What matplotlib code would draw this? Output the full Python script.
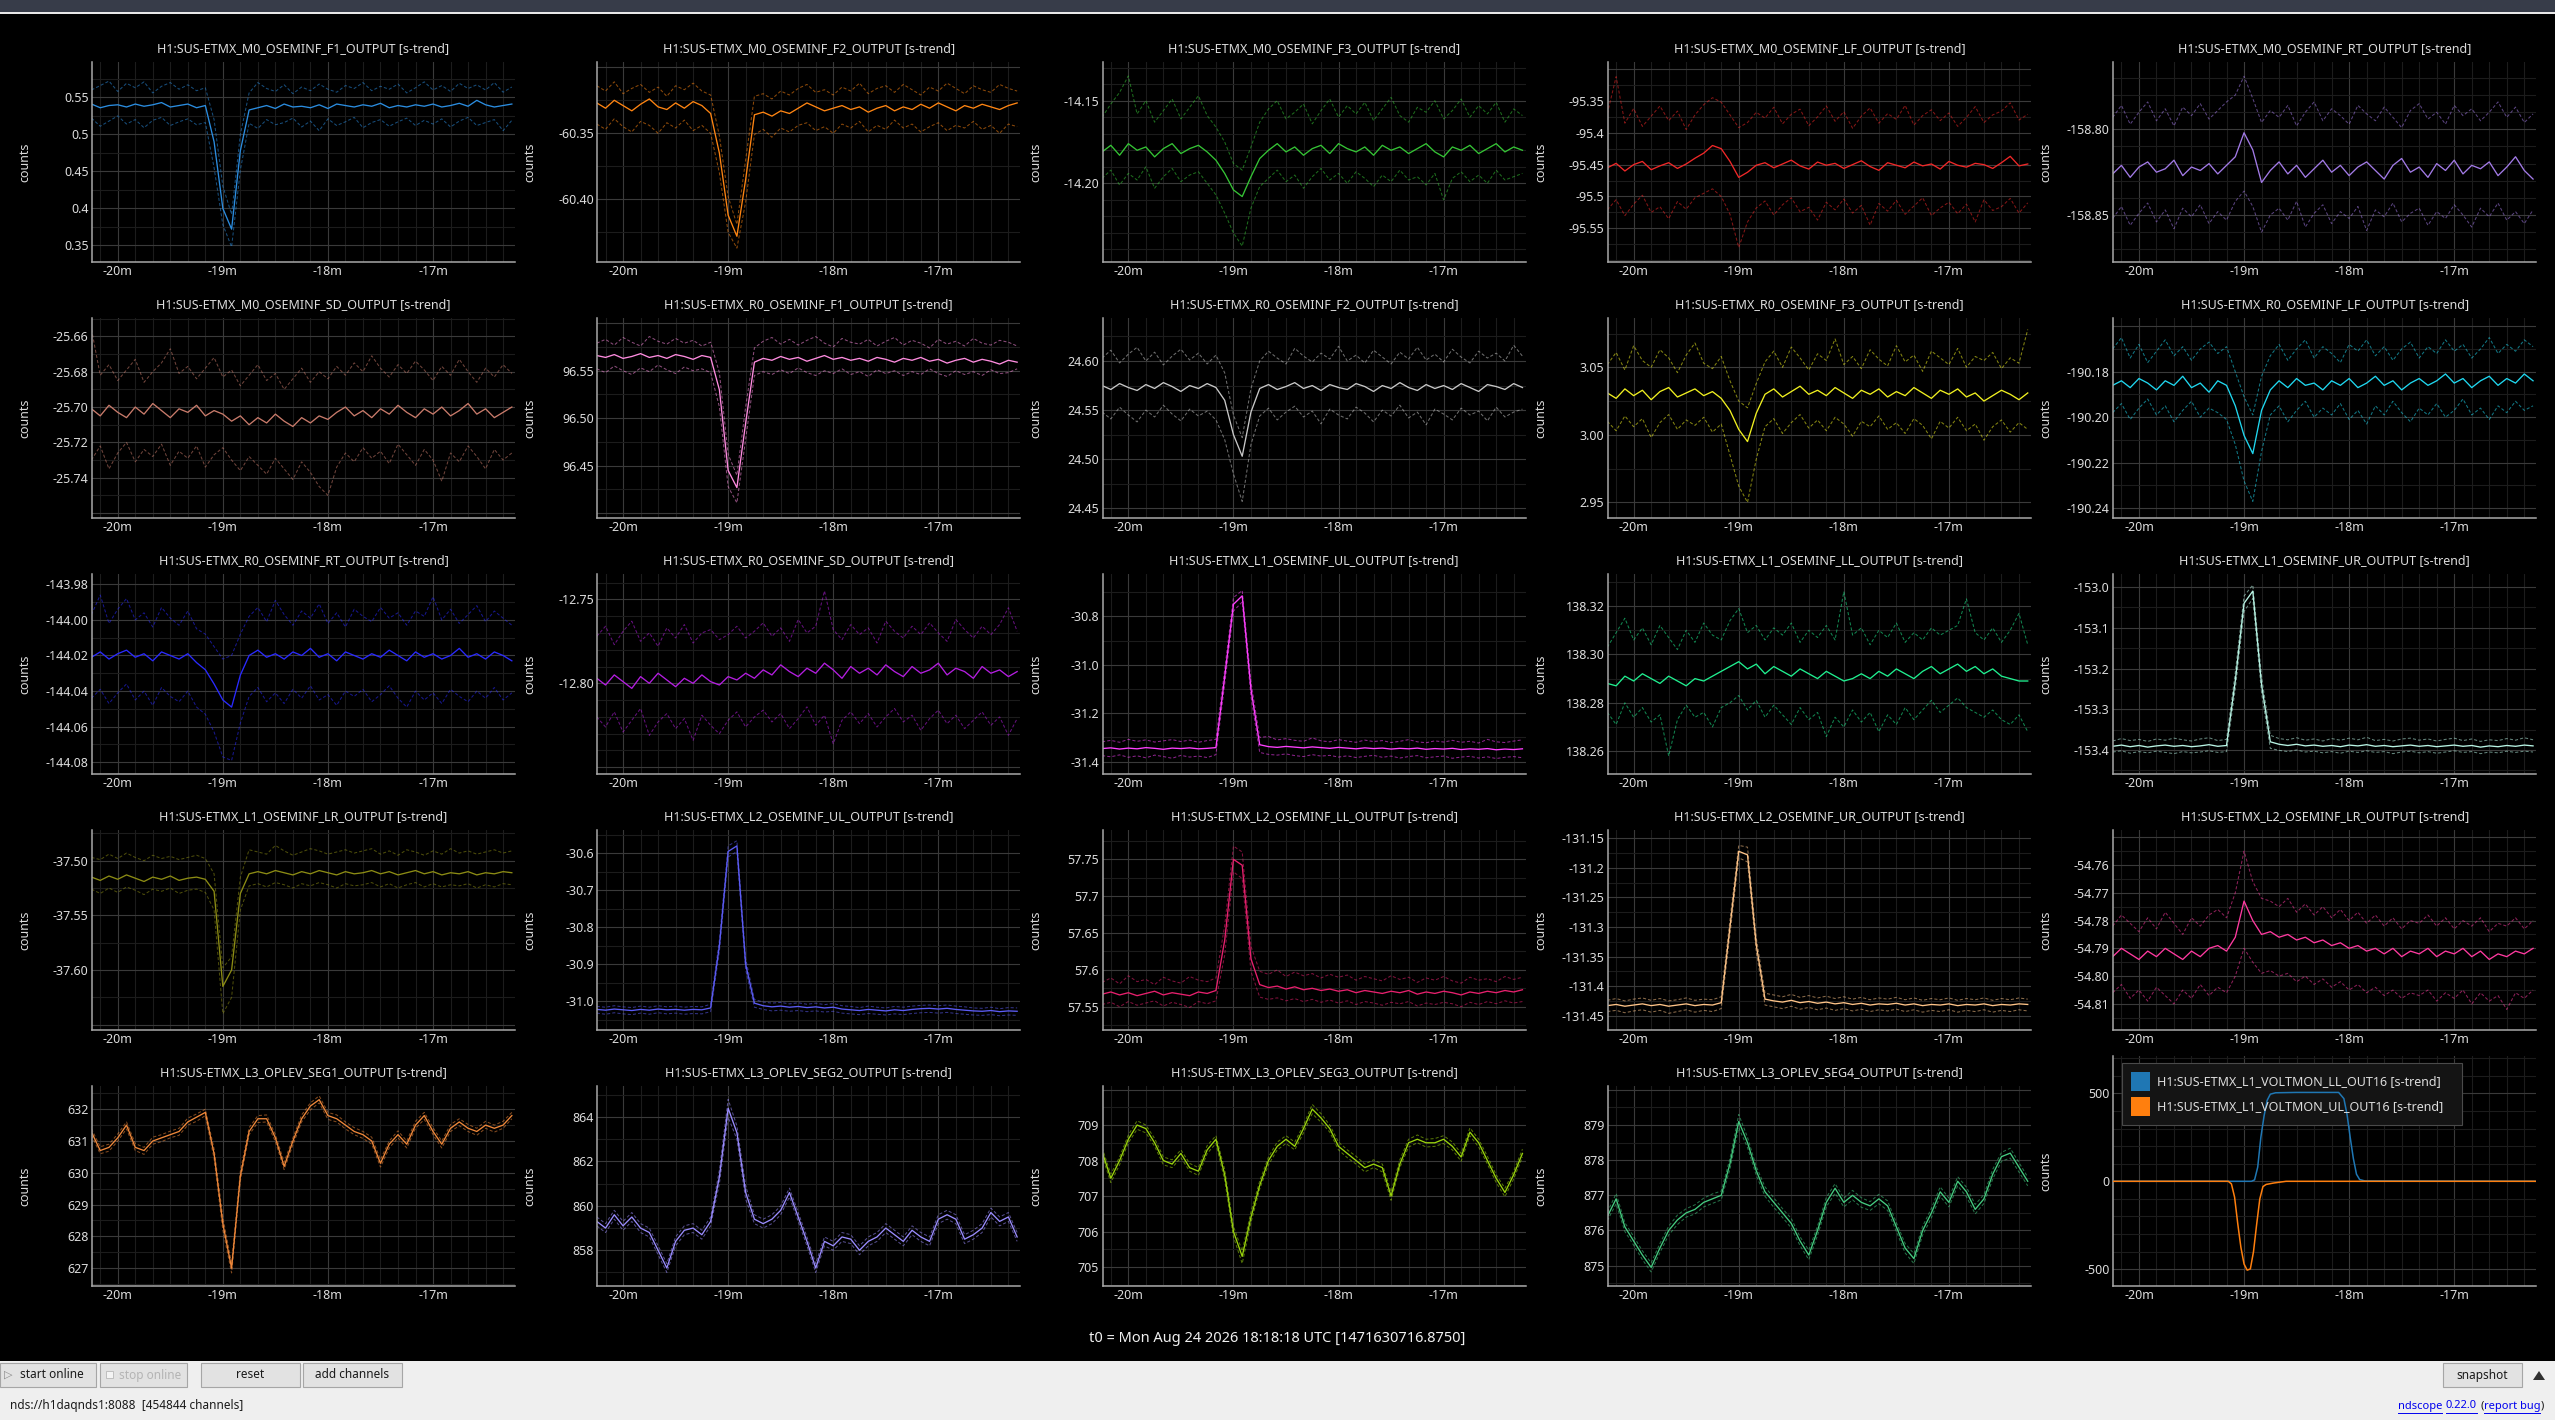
import numpy as np
import matplotlib
matplotlib.use("Agg")
import matplotlib.pyplot as plt
from matplotlib.patches import Rectangle, Polygon
from matplotlib.lines import Line2D
from matplotlib.ticker import MultipleLocator

plt.rcParams['font.family'] = ['Noto Sans', 'DejaVu Sans']

W, H = 2555, 1420

# ---------------- data (time in minutes relative to t0, 5 s sampling) ----------------
t_min = np.linspace(-20.25, -16.25, 49)
x_ticks = [-20, -19, -18, -17]
x_tick_labels = ['-20m', '-19m', '-18m', '-17m']

F1_mean = [0.541,0.536,0.539,0.540,0.537,0.541,0.538,0.540,0.543,0.537,0.539,0.541,0.536,0.539,0.490,0.400,0.372,0.478,0.533,0.536,0.539,0.535,0.541,0.537,0.538,0.536,0.540,0.535,0.541,0.539,0.537,0.540,0.538,0.542,0.536,0.539,0.537,0.540,0.538,0.541,0.537,0.539,0.542,0.538,0.546,0.540,0.537,0.539,0.541]
F1_max = [0.560,0.566,0.572,0.558,0.569,0.563,0.571,0.556,0.565,0.570,0.561,0.567,0.559,0.563,0.520,0.430,0.392,0.500,0.556,0.570,0.562,0.558,0.567,0.555,0.564,0.559,0.568,0.561,0.557,0.566,0.562,0.570,0.559,0.565,0.561,0.568,0.556,0.563,0.571,0.560,0.566,0.558,0.569,0.562,0.567,0.560,0.570,0.557,0.564]
F1_min = [0.522,0.511,0.518,0.525,0.514,0.520,0.509,0.519,0.523,0.512,0.517,0.521,0.513,0.516,0.455,0.378,0.348,0.452,0.515,0.508,0.520,0.513,0.516,0.522,0.510,0.518,0.505,0.521,0.512,0.517,0.523,0.509,0.516,0.520,0.511,0.517,0.522,0.512,0.519,0.514,0.521,0.510,0.518,0.523,0.512,0.516,0.520,0.505,0.519]

F2_mean = [-60.327,-60.331,-60.325,-60.329,-60.333,-60.328,-60.324,-60.330,-60.332,-60.327,-60.331,-60.326,-60.329,-60.335,-60.365,-60.412,-60.428,-60.385,-60.336,-60.334,-60.337,-60.333,-60.335,-60.331,-60.327,-60.330,-60.333,-60.331,-60.329,-60.332,-60.330,-60.334,-60.331,-60.329,-60.333,-60.330,-60.332,-60.328,-60.331,-60.327,-60.330,-60.333,-60.329,-60.331,-60.328,-60.330,-60.332,-60.329,-60.327]
F2_max = [-60.314,-60.318,-60.311,-60.320,-60.316,-60.313,-60.319,-60.315,-60.322,-60.314,-60.317,-60.312,-60.318,-60.321,-60.352,-60.398,-60.419,-60.370,-60.322,-60.320,-60.324,-60.318,-60.321,-60.316,-60.313,-60.319,-60.317,-60.321,-60.315,-60.318,-60.312,-60.320,-60.316,-60.314,-60.319,-60.313,-60.317,-60.321,-60.315,-60.318,-60.312,-60.316,-60.320,-60.314,-60.317,-60.319,-60.313,-60.316,-60.318]
F2_min = [-60.343,-60.347,-60.339,-60.345,-60.349,-60.341,-60.344,-60.350,-60.342,-60.346,-60.340,-60.348,-60.344,-60.350,-60.380,-60.425,-60.437,-60.402,-60.351,-60.347,-60.353,-60.346,-60.349,-60.344,-60.342,-60.348,-60.345,-60.350,-60.343,-60.346,-60.341,-60.349,-60.344,-60.347,-60.340,-60.346,-60.343,-60.349,-60.345,-60.342,-60.348,-60.344,-60.346,-60.341,-60.347,-60.344,-60.350,-60.343,-60.345]

F3_mean = [-14.181,-14.177,-14.183,-14.176,-14.180,-14.178,-14.184,-14.179,-14.176,-14.182,-14.179,-14.177,-14.181,-14.186,-14.194,-14.204,-14.208,-14.196,-14.185,-14.180,-14.176,-14.181,-14.178,-14.183,-14.179,-14.177,-14.182,-14.176,-14.179,-14.181,-14.178,-14.183,-14.177,-14.180,-14.178,-14.182,-14.179,-14.176,-14.181,-14.184,-14.178,-14.180,-14.177,-14.182,-14.179,-14.176,-14.181,-14.178,-14.180]
F3_max = [-14.160,-14.152,-14.145,-14.135,-14.158,-14.150,-14.163,-14.156,-14.149,-14.161,-14.154,-14.147,-14.159,-14.166,-14.175,-14.188,-14.192,-14.178,-14.163,-14.155,-14.150,-14.161,-14.157,-14.152,-14.164,-14.156,-14.149,-14.160,-14.153,-14.158,-14.151,-14.162,-14.155,-14.148,-14.159,-14.163,-14.154,-14.157,-14.150,-14.161,-14.156,-14.149,-14.160,-14.153,-14.158,-14.151,-14.163,-14.155,-14.159]
F3_min = [-14.197,-14.192,-14.201,-14.194,-14.198,-14.190,-14.203,-14.196,-14.191,-14.199,-14.195,-14.193,-14.200,-14.207,-14.218,-14.230,-14.238,-14.215,-14.202,-14.197,-14.192,-14.199,-14.195,-14.203,-14.196,-14.191,-14.198,-14.194,-14.200,-14.193,-14.197,-14.202,-14.195,-14.199,-14.192,-14.198,-14.196,-14.201,-14.194,-14.210,-14.197,-14.193,-14.199,-14.195,-14.200,-14.192,-14.198,-14.196,-14.194]

LF_mean = [-95.455,-95.448,-95.460,-95.450,-95.445,-95.458,-95.452,-95.447,-95.456,-95.449,-95.440,-95.432,-95.420,-95.425,-95.445,-95.470,-95.462,-95.451,-95.447,-95.455,-95.449,-95.443,-95.452,-95.457,-95.446,-95.451,-95.448,-95.456,-95.450,-95.444,-95.453,-95.459,-95.447,-95.451,-95.455,-95.446,-95.452,-95.449,-95.457,-95.445,-95.451,-95.454,-95.448,-95.450,-95.456,-95.447,-95.437,-95.452,-95.449]
LF_max = [-95.370,-95.312,-95.385,-95.362,-95.390,-95.374,-95.358,-95.381,-95.366,-95.395,-95.372,-95.356,-95.345,-95.352,-95.372,-95.392,-95.384,-95.368,-95.377,-95.360,-95.386,-95.371,-95.363,-95.389,-95.375,-95.358,-95.382,-95.367,-95.393,-95.374,-95.361,-95.385,-95.370,-95.379,-95.357,-95.388,-95.373,-95.364,-95.381,-95.369,-95.390,-95.376,-95.359,-95.384,-95.372,-95.366,-95.353,-95.380,-95.371]
LF_min = [-95.521,-95.505,-95.530,-95.512,-95.498,-95.525,-95.516,-95.535,-95.508,-95.520,-95.502,-95.495,-95.488,-95.500,-95.528,-95.580,-95.540,-95.518,-95.507,-95.529,-95.513,-95.502,-95.524,-95.517,-95.537,-95.509,-95.521,-95.504,-95.526,-95.514,-95.545,-95.511,-95.523,-95.506,-95.528,-95.515,-95.502,-95.530,-95.518,-95.509,-95.527,-95.512,-95.540,-95.505,-95.522,-95.516,-95.503,-95.526,-95.510]

RT_mean = [-158.826,-158.821,-158.828,-158.822,-158.819,-158.825,-158.823,-158.818,-158.827,-158.822,-158.824,-158.820,-158.826,-158.821,-158.816,-158.802,-158.812,-158.831,-158.824,-158.819,-158.826,-158.821,-158.828,-158.823,-158.818,-158.825,-158.821,-158.827,-158.822,-158.819,-158.824,-158.829,-158.821,-158.817,-158.825,-158.822,-158.828,-158.820,-158.824,-158.818,-158.826,-158.821,-158.823,-158.819,-158.827,-158.822,-158.816,-158.824,-158.829]
RT_max = [-158.793,-158.786,-158.797,-158.790,-158.784,-158.795,-158.788,-158.798,-158.787,-158.792,-158.785,-158.794,-158.789,-158.784,-158.780,-158.769,-158.782,-158.796,-158.789,-158.793,-158.786,-158.798,-158.790,-158.784,-158.795,-158.788,-158.792,-158.797,-158.786,-158.791,-158.795,-158.787,-158.793,-158.799,-158.789,-158.785,-158.794,-158.790,-158.797,-158.786,-158.792,-158.788,-158.795,-158.790,-158.784,-158.793,-158.787,-158.796,-158.791]
RT_min = [-158.852,-158.845,-158.856,-158.849,-158.843,-158.854,-158.847,-158.858,-158.846,-158.851,-158.844,-158.855,-158.848,-158.853,-158.842,-158.836,-158.845,-158.860,-158.850,-158.846,-158.853,-158.842,-158.857,-158.849,-158.844,-158.855,-158.848,-158.852,-158.845,-158.859,-158.847,-158.851,-158.843,-158.854,-158.849,-158.846,-158.856,-158.848,-158.852,-158.844,-158.850,-158.857,-158.846,-158.851,-158.843,-158.853,-158.848,-158.855,-158.847]

SD_mean = [-25.701,-25.705,-25.699,-25.703,-25.706,-25.700,-25.704,-25.698,-25.702,-25.706,-25.701,-25.703,-25.699,-25.705,-25.702,-25.704,-25.708,-25.705,-25.710,-25.706,-25.709,-25.704,-25.708,-25.711,-25.706,-25.709,-25.705,-25.707,-25.703,-25.700,-25.705,-25.702,-25.706,-25.701,-25.704,-25.699,-25.703,-25.706,-25.701,-25.704,-25.700,-25.705,-25.702,-25.698,-25.704,-25.701,-25.706,-25.703,-25.700]
SD_max = [-25.656,-25.682,-25.676,-25.685,-25.679,-25.673,-25.686,-25.680,-25.675,-25.667,-25.681,-25.677,-25.684,-25.678,-25.672,-25.683,-25.679,-25.688,-25.682,-25.676,-25.685,-25.681,-25.690,-25.684,-25.678,-25.686,-25.680,-25.684,-25.677,-25.682,-25.675,-25.680,-25.671,-25.678,-25.683,-25.676,-25.681,-25.674,-25.679,-25.685,-25.677,-25.682,-25.673,-25.680,-25.686,-25.678,-25.683,-25.676,-25.681]
SD_min = [-25.730,-25.722,-25.735,-25.726,-25.720,-25.731,-25.724,-25.728,-25.721,-25.733,-25.725,-25.729,-25.722,-25.734,-25.727,-25.723,-25.730,-25.736,-25.728,-25.733,-25.738,-25.729,-25.735,-25.741,-25.731,-25.737,-25.745,-25.750,-25.734,-25.726,-25.731,-25.723,-25.729,-25.725,-25.732,-25.721,-25.727,-25.733,-25.724,-25.730,-25.742,-25.726,-25.731,-25.722,-25.728,-25.735,-25.724,-25.730,-25.726]

R0F1_mean = [96.566,96.564,96.567,96.563,96.565,96.568,96.564,96.566,96.563,96.567,96.565,96.562,96.566,96.564,96.530,96.445,96.427,96.495,96.559,96.563,96.561,96.565,96.562,96.564,96.560,96.563,96.566,96.562,96.564,96.561,96.563,96.560,96.564,96.562,96.559,96.563,96.561,96.564,96.560,96.562,96.558,96.561,96.563,96.559,96.562,96.560,96.557,96.561,96.559]
R0F1_max = [96.579,96.583,96.577,96.585,96.580,96.576,96.586,96.581,96.578,96.584,96.579,96.582,96.576,96.580,96.548,96.462,96.440,96.512,96.574,96.581,96.585,96.578,96.583,96.577,96.582,96.586,96.579,96.575,96.584,96.580,96.578,96.583,96.576,96.581,96.585,96.577,96.582,96.579,96.574,96.583,96.578,96.581,96.576,96.584,96.579,96.577,96.582,96.580,96.576]
R0F1_min = [96.552,96.548,96.555,96.550,96.546,96.553,96.549,96.556,96.551,96.547,96.554,96.550,96.552,96.548,96.512,96.428,96.411,96.478,96.545,96.549,96.546,96.551,96.547,96.553,96.548,96.545,96.550,96.547,96.552,96.546,96.549,96.544,96.551,96.547,96.550,96.545,96.549,96.546,96.552,96.547,96.544,96.550,96.546,96.549,96.545,96.551,96.547,96.548,96.552]

R0F2_mean = [24.575,24.571,24.577,24.573,24.570,24.576,24.572,24.578,24.574,24.569,24.575,24.572,24.577,24.573,24.560,24.525,24.503,24.548,24.572,24.576,24.571,24.574,24.578,24.572,24.575,24.570,24.576,24.573,24.571,24.577,24.574,24.569,24.575,24.572,24.578,24.573,24.570,24.576,24.572,24.575,24.571,24.577,24.573,24.569,24.576,24.574,24.571,24.577,24.573]
R0F2_max = [24.603,24.611,24.598,24.607,24.614,24.600,24.609,24.596,24.605,24.612,24.601,24.608,24.597,24.606,24.588,24.545,24.522,24.572,24.600,24.610,24.603,24.597,24.613,24.605,24.599,24.608,24.602,24.615,24.600,24.606,24.598,24.611,24.604,24.597,24.609,24.602,24.614,24.601,24.607,24.599,24.612,24.604,24.598,24.610,24.603,24.608,24.600,24.616,24.605]
R0F2_min = [24.548,24.541,24.553,24.545,24.538,24.550,24.543,24.555,24.546,24.539,24.551,24.544,24.549,24.540,24.520,24.485,24.457,24.515,24.544,24.552,24.540,24.548,24.554,24.543,24.549,24.536,24.551,24.545,24.541,24.553,24.547,24.538,24.550,24.544,24.555,24.542,24.548,24.535,24.551,24.546,24.540,24.552,24.545,24.549,24.539,24.553,24.543,24.548,24.551]

R0F3_mean = [3.031,3.027,3.034,3.029,3.033,3.026,3.032,3.035,3.028,3.031,3.034,3.029,3.032,3.027,3.018,3.004,2.995,3.016,3.030,3.034,3.028,3.032,3.036,3.030,3.033,3.029,3.035,3.031,3.027,3.033,3.030,3.034,3.028,3.032,3.029,3.035,3.031,3.027,3.033,3.030,3.034,3.028,3.031,3.025,3.029,3.033,3.030,3.026,3.031]
R0F3_max = [3.052,3.061,3.048,3.066,3.055,3.050,3.063,3.057,3.046,3.059,3.068,3.053,3.049,3.058,3.040,3.025,3.020,3.038,3.054,3.062,3.050,3.065,3.057,3.048,3.060,3.055,3.071,3.052,3.058,3.049,3.063,3.056,3.051,3.066,3.054,3.059,3.047,3.062,3.057,3.052,3.064,3.050,3.058,3.055,3.061,3.049,3.057,3.053,3.078]
R0F3_min = [3.010,3.003,3.014,3.006,3.012,2.998,3.009,3.015,3.004,3.011,3.007,3.013,3.002,3.008,2.985,2.962,2.950,2.982,3.006,3.012,3.001,3.009,3.015,3.005,3.011,3.003,3.013,3.008,2.999,3.010,3.006,3.014,3.004,3.009,3.001,3.012,3.007,2.997,3.010,3.005,3.013,3.003,3.008,2.996,3.006,3.011,3.002,3.009,3.004]

R0LF_mean = [-190.186,-190.184,-190.187,-190.183,-190.185,-190.188,-190.184,-190.186,-190.182,-190.187,-190.185,-190.189,-190.184,-190.186,-190.195,-190.208,-190.216,-190.197,-190.188,-190.184,-190.187,-190.183,-190.186,-190.185,-190.188,-190.184,-190.186,-190.183,-190.187,-190.185,-190.182,-190.186,-190.184,-190.188,-190.185,-190.183,-190.186,-190.184,-190.181,-190.185,-190.183,-190.187,-190.184,-190.182,-190.186,-190.183,-190.185,-190.181,-190.184]
R0LF_max = [-190.170,-190.165,-190.174,-190.168,-190.176,-190.171,-190.166,-190.173,-190.169,-190.175,-190.170,-190.167,-190.172,-190.169,-190.180,-190.191,-190.199,-190.182,-190.173,-190.168,-190.175,-190.170,-190.166,-190.174,-190.169,-190.172,-190.176,-190.168,-190.171,-190.166,-190.173,-190.169,-190.175,-190.170,-190.167,-190.174,-190.169,-190.172,-190.166,-190.171,-190.168,-190.174,-190.170,-190.165,-190.172,-190.168,-190.171,-190.166,-190.169]
R0LF_min = [-190.198,-190.194,-190.201,-190.196,-190.192,-190.199,-190.195,-190.202,-190.197,-190.193,-190.200,-190.196,-190.198,-190.201,-190.212,-190.228,-190.237,-190.215,-190.199,-190.195,-190.202,-190.197,-190.193,-190.200,-190.196,-190.199,-190.194,-190.201,-190.197,-190.203,-190.195,-190.199,-190.193,-190.198,-190.202,-190.196,-190.199,-190.194,-190.200,-190.197,-190.192,-190.199,-190.196,-190.201,-190.195,-190.198,-190.193,-190.197,-190.195]

R0RT_mean = [-144.021,-144.018,-144.022,-144.019,-144.017,-144.021,-144.019,-144.023,-144.018,-144.020,-144.022,-144.019,-144.024,-144.028,-144.036,-144.045,-144.049,-144.031,-144.020,-144.017,-144.021,-144.019,-144.022,-144.018,-144.020,-144.016,-144.021,-144.019,-144.023,-144.018,-144.020,-144.022,-144.019,-144.021,-144.017,-144.020,-144.023,-144.018,-144.021,-144.019,-144.022,-144.020,-144.016,-144.021,-144.019,-144.022,-144.018,-144.020,-144.023]
R0RT_max = [-143.997,-143.986,-144.002,-143.994,-143.988,-144.000,-143.996,-144.004,-143.993,-143.999,-144.003,-143.995,-144.005,-144.008,-144.015,-144.022,-144.020,-144.008,-143.998,-143.993,-144.001,-143.989,-143.997,-144.003,-143.995,-143.999,-143.991,-144.002,-143.996,-144.004,-143.994,-143.998,-144.001,-143.993,-143.999,-143.996,-144.003,-143.995,-143.998,-143.987,-144.000,-143.994,-144.002,-143.997,-143.992,-144.001,-143.995,-143.999,-144.003]
R0RT_min = [-144.044,-144.039,-144.047,-144.041,-144.036,-144.045,-144.040,-144.048,-144.038,-144.043,-144.046,-144.040,-144.049,-144.053,-144.063,-144.077,-144.079,-144.058,-144.043,-144.038,-144.046,-144.041,-144.047,-144.039,-144.044,-144.037,-144.045,-144.042,-144.048,-144.040,-144.043,-144.039,-144.046,-144.042,-144.037,-144.044,-144.049,-144.040,-144.045,-144.041,-144.047,-144.039,-144.043,-144.046,-144.040,-144.044,-144.038,-144.045,-144.041]

R0SD_mean = [-12.797,-12.801,-12.795,-12.799,-12.803,-12.796,-12.800,-12.794,-12.798,-12.802,-12.797,-12.800,-12.795,-12.799,-12.801,-12.796,-12.798,-12.794,-12.797,-12.792,-12.795,-12.789,-12.793,-12.796,-12.791,-12.794,-12.788,-12.792,-12.797,-12.790,-12.794,-12.791,-12.795,-12.789,-12.793,-12.796,-12.790,-12.794,-12.792,-12.788,-12.795,-12.791,-12.793,-12.797,-12.790,-12.794,-12.792,-12.796,-12.793]
R0SD_max = [-12.772,-12.766,-12.777,-12.769,-12.763,-12.775,-12.770,-12.778,-12.767,-12.773,-12.765,-12.776,-12.770,-12.768,-12.774,-12.771,-12.766,-12.773,-12.769,-12.764,-12.772,-12.767,-12.775,-12.762,-12.770,-12.766,-12.745,-12.768,-12.774,-12.765,-12.771,-12.767,-12.776,-12.763,-12.769,-12.773,-12.766,-12.771,-12.764,-12.770,-12.775,-12.762,-12.768,-12.773,-12.766,-12.771,-12.765,-12.755,-12.769]
R0SD_min = [-12.820,-12.826,-12.817,-12.829,-12.822,-12.815,-12.831,-12.823,-12.818,-12.827,-12.821,-12.834,-12.819,-12.825,-12.830,-12.822,-12.817,-12.826,-12.820,-12.816,-12.823,-12.818,-12.827,-12.821,-12.814,-12.825,-12.819,-12.836,-12.822,-12.817,-12.824,-12.818,-12.826,-12.820,-12.815,-12.823,-12.819,-12.828,-12.821,-12.816,-12.824,-12.819,-12.827,-12.822,-12.817,-12.825,-12.820,-12.831,-12.821]

L1UL_mean = [-31.346,-31.343,-31.348,-31.344,-31.347,-31.342,-31.345,-31.349,-31.344,-31.346,-31.343,-31.347,-31.345,-31.342,-31.050,-30.750,-30.715,-31.100,-31.330,-31.338,-31.341,-31.337,-31.340,-31.343,-31.339,-31.342,-31.345,-31.341,-31.344,-31.347,-31.343,-31.346,-31.344,-31.348,-31.345,-31.347,-31.344,-31.349,-31.346,-31.348,-31.345,-31.350,-31.347,-31.349,-31.346,-31.351,-31.348,-31.350,-31.347]
L1UL_max = [-31.318,-31.312,-31.320,-31.308,-31.316,-31.310,-31.319,-31.314,-31.309,-31.317,-31.311,-31.320,-31.313,-31.308,-31.020,-30.722,-30.693,-31.070,-31.300,-31.296,-31.310,-31.305,-31.312,-31.316,-31.302,-31.314,-31.318,-31.309,-31.315,-31.320,-31.311,-31.317,-31.313,-31.321,-31.316,-31.309,-31.318,-31.322,-31.314,-31.319,-31.312,-31.320,-31.316,-31.323,-31.308,-31.318,-31.321,-31.315,-31.310]
L1UL_min = [-31.375,-31.380,-31.372,-31.382,-31.376,-31.384,-31.373,-31.379,-31.386,-31.374,-31.381,-31.377,-31.383,-31.371,-31.080,-30.778,-30.740,-31.130,-31.362,-31.370,-31.373,-31.368,-31.375,-31.379,-31.371,-31.377,-31.374,-31.381,-31.376,-31.383,-31.378,-31.374,-31.382,-31.377,-31.385,-31.379,-31.375,-31.384,-31.380,-31.377,-31.386,-31.381,-31.378,-31.385,-31.380,-31.387,-31.382,-31.379,-31.384]

L1LL_mean = [138.288,138.287,138.291,138.289,138.292,138.290,138.288,138.291,138.289,138.287,138.290,138.289,138.291,138.293,138.295,138.297,138.294,138.296,138.292,138.295,138.293,138.291,138.294,138.292,138.290,138.293,138.291,138.289,138.290,138.292,138.290,138.293,138.291,138.294,138.292,138.290,138.293,138.295,138.292,138.294,138.296,138.293,138.295,138.292,138.294,138.291,138.290,138.289,138.289]
L1LL_max = [138.303,138.309,138.315,138.306,138.311,138.304,138.312,138.307,138.302,138.310,138.305,138.313,138.308,138.306,138.314,138.319,138.309,138.312,138.306,138.311,138.308,138.313,138.305,138.310,138.307,138.312,138.306,138.326,138.308,138.311,138.304,138.310,138.307,138.313,138.305,138.309,138.306,138.311,138.308,138.310,138.312,138.323,138.309,138.306,138.311,138.305,138.310,138.317,138.304]
L1LL_min = [138.276,138.271,138.280,138.274,138.278,138.272,138.275,138.258,138.273,138.279,138.274,138.276,138.270,138.278,138.280,138.283,138.277,138.281,138.274,138.279,138.275,138.271,138.278,138.273,138.276,138.266,138.274,138.270,138.277,138.272,138.276,138.268,138.275,138.271,138.278,138.273,138.277,138.281,138.276,138.279,138.282,138.278,138.276,138.274,138.277,138.273,138.271,138.275,138.268]

L1UR_mean = [-153.391,-153.388,-153.392,-153.389,-153.393,-153.390,-153.388,-153.391,-153.389,-153.392,-153.390,-153.387,-153.391,-153.389,-153.230,-153.040,-153.010,-153.240,-153.380,-153.386,-153.389,-153.386,-153.390,-153.388,-153.391,-153.389,-153.392,-153.388,-153.390,-153.387,-153.391,-153.389,-153.392,-153.390,-153.388,-153.391,-153.389,-153.392,-153.390,-153.388,-153.391,-153.389,-153.393,-153.390,-153.392,-153.389,-153.391,-153.388,-153.390]
L1UR_max = [-153.378,-153.372,-153.377,-153.374,-153.379,-153.373,-153.376,-153.371,-153.375,-153.378,-153.373,-153.370,-153.377,-153.374,-153.210,-153.022,-152.995,-153.220,-153.364,-153.372,-153.375,-153.370,-153.376,-153.373,-153.378,-153.372,-153.376,-153.371,-153.375,-153.369,-153.377,-153.374,-153.378,-153.373,-153.371,-153.376,-153.373,-153.378,-153.374,-153.371,-153.377,-153.373,-153.379,-153.375,-153.377,-153.372,-153.376,-153.370,-153.375]
L1UR_min = [-153.405,-153.402,-153.408,-153.404,-153.407,-153.403,-153.406,-153.409,-153.404,-153.407,-153.405,-153.402,-153.406,-153.404,-153.250,-153.060,-153.028,-153.260,-153.396,-153.401,-153.404,-153.400,-153.405,-153.403,-153.407,-153.404,-153.408,-153.403,-153.406,-153.402,-153.406,-153.404,-153.409,-153.405,-153.403,-153.407,-153.404,-153.408,-153.405,-153.402,-153.406,-153.404,-153.409,-153.405,-153.407,-153.403,-153.406,-153.403,-153.405]

L1LR_mean = [-37.515,-37.518,-37.514,-37.517,-37.513,-37.516,-37.519,-37.515,-37.517,-37.514,-37.518,-37.516,-37.515,-37.517,-37.528,-37.615,-37.600,-37.530,-37.512,-37.510,-37.512,-37.509,-37.511,-37.513,-37.510,-37.512,-37.509,-37.511,-37.513,-37.510,-37.512,-37.511,-37.509,-37.512,-37.510,-37.513,-37.511,-37.509,-37.512,-37.510,-37.513,-37.511,-37.512,-37.510,-37.513,-37.511,-37.512,-37.510,-37.511]
L1LR_max = [-37.497,-37.499,-37.494,-37.498,-37.493,-37.497,-37.500,-37.495,-37.498,-37.496,-37.499,-37.497,-37.495,-37.498,-37.512,-37.598,-37.588,-37.515,-37.490,-37.492,-37.494,-37.486,-37.491,-37.495,-37.492,-37.489,-37.491,-37.494,-37.492,-37.490,-37.493,-37.491,-37.489,-37.494,-37.491,-37.495,-37.490,-37.492,-37.495,-37.491,-37.494,-37.489,-37.493,-37.491,-37.494,-37.492,-37.490,-37.493,-37.491]
L1LR_min = [-37.526,-37.530,-37.525,-37.529,-37.524,-37.527,-37.531,-37.526,-37.528,-37.525,-37.530,-37.527,-37.526,-37.529,-37.545,-37.640,-37.625,-37.545,-37.523,-37.521,-37.524,-37.520,-37.522,-37.525,-37.521,-37.523,-37.520,-37.522,-37.525,-37.521,-37.523,-37.522,-37.520,-37.524,-37.521,-37.525,-37.522,-37.520,-37.524,-37.521,-37.524,-37.522,-37.523,-37.521,-37.525,-37.522,-37.524,-37.521,-37.522]

L2UL_mean = [-31.022,-31.024,-31.021,-31.023,-31.025,-31.022,-31.024,-31.021,-31.023,-31.022,-31.024,-31.022,-31.023,-31.018,-30.850,-30.595,-30.580,-30.900,-31.005,-31.012,-31.015,-31.013,-31.016,-31.014,-31.017,-31.015,-31.018,-31.016,-31.021,-31.023,-31.025,-31.022,-31.024,-31.026,-31.023,-31.025,-31.022,-31.020,-31.019,-31.021,-31.019,-31.022,-31.024,-31.026,-31.027,-31.025,-31.028,-31.026,-31.027]
L2UL_max = [-31.014,-31.016,-31.012,-31.015,-31.017,-31.013,-31.016,-31.012,-31.015,-31.013,-31.016,-31.014,-31.015,-31.008,-30.835,-30.580,-30.566,-30.885,-30.995,-31.002,-31.005,-31.003,-31.007,-31.004,-31.008,-31.005,-31.009,-31.006,-31.012,-31.014,-31.017,-31.013,-31.016,-31.018,-31.014,-31.016,-31.013,-31.011,-31.010,-31.012,-31.010,-31.013,-31.015,-31.018,-31.019,-31.016,-31.020,-31.017,-31.018]
L2UL_min = [-31.032,-31.035,-31.031,-31.034,-31.036,-31.032,-31.035,-31.031,-31.034,-31.032,-31.035,-31.033,-31.034,-31.028,-30.865,-30.610,-30.595,-30.915,-31.016,-31.022,-31.026,-31.024,-31.027,-31.025,-31.028,-31.026,-31.029,-31.027,-31.032,-31.034,-31.036,-31.033,-31.035,-31.037,-31.034,-31.036,-31.033,-31.031,-31.030,-31.032,-31.030,-31.033,-31.035,-31.037,-31.038,-31.036,-31.039,-31.037,-31.038]

L2LL_mean = [57.567,57.570,57.566,57.569,57.565,57.568,57.571,57.566,57.569,57.567,57.565,57.570,57.568,57.572,57.640,57.750,57.742,57.615,57.580,57.576,57.578,57.574,57.577,57.573,57.575,57.572,57.574,57.571,57.573,57.569,57.572,57.570,57.568,57.571,57.569,57.572,57.567,57.570,57.568,57.571,57.569,57.566,57.570,57.568,57.571,57.569,57.572,57.570,57.573]
L2LL_max = [57.583,57.589,57.581,57.592,57.584,57.587,57.580,57.590,57.585,57.582,57.591,57.586,57.584,57.589,57.660,57.768,57.760,57.632,57.598,57.594,57.600,57.591,57.597,57.592,57.595,57.589,57.594,57.590,57.593,57.586,57.591,57.588,57.585,57.592,57.587,57.590,57.583,57.589,57.586,57.591,57.585,57.582,57.590,57.586,57.588,57.584,57.591,57.587,57.590]
L2LL_min = [57.553,57.556,57.550,57.557,57.552,57.555,57.558,57.551,57.556,57.553,57.549,57.557,57.554,57.558,57.620,57.733,57.724,57.598,57.563,57.560,57.562,57.558,57.561,57.557,57.560,57.556,57.559,57.555,57.558,57.553,57.557,57.555,57.552,57.556,57.554,57.557,57.551,57.555,57.553,57.556,57.554,57.550,57.556,57.553,57.557,57.554,57.558,57.555,57.557]

L2UR_mean = [-131.433,-131.431,-131.434,-131.432,-131.430,-131.433,-131.431,-131.434,-131.432,-131.430,-131.433,-131.431,-131.432,-131.428,-131.300,-131.172,-131.178,-131.330,-131.422,-131.425,-131.427,-131.424,-131.428,-131.426,-131.429,-131.427,-131.430,-131.428,-131.431,-131.429,-131.432,-131.430,-131.431,-131.429,-131.432,-131.430,-131.433,-131.431,-131.432,-131.430,-131.433,-131.431,-131.432,-131.430,-131.433,-131.431,-131.432,-131.430,-131.431]
L2UR_max = [-131.424,-131.421,-131.425,-131.422,-131.420,-131.424,-131.421,-131.425,-131.423,-131.420,-131.424,-131.422,-131.423,-131.418,-131.288,-131.162,-131.165,-131.318,-131.412,-131.415,-131.418,-131.414,-131.419,-131.416,-131.420,-131.417,-131.421,-131.418,-131.422,-131.419,-131.423,-131.420,-131.422,-131.419,-131.423,-131.420,-131.424,-131.421,-131.423,-131.420,-131.424,-131.421,-131.423,-131.420,-131.424,-131.421,-131.423,-131.420,-131.422]
L2UR_min = [-131.443,-131.441,-131.445,-131.442,-131.440,-131.444,-131.441,-131.446,-131.443,-131.440,-131.444,-131.441,-131.443,-131.438,-131.312,-131.183,-131.190,-131.342,-131.432,-131.435,-131.438,-131.434,-131.439,-131.436,-131.440,-131.437,-131.441,-131.438,-131.442,-131.439,-131.443,-131.440,-131.442,-131.439,-131.443,-131.440,-131.444,-131.441,-131.443,-131.440,-131.444,-131.441,-131.443,-131.440,-131.444,-131.441,-131.443,-131.440,-131.442]

L2LR_mean = [-54.793,-54.790,-54.792,-54.794,-54.791,-54.793,-54.790,-54.792,-54.794,-54.791,-54.793,-54.790,-54.789,-54.791,-54.786,-54.773,-54.780,-54.785,-54.784,-54.786,-54.785,-54.787,-54.786,-54.788,-54.787,-54.789,-54.788,-54.790,-54.789,-54.791,-54.790,-54.792,-54.790,-54.793,-54.791,-54.792,-54.790,-54.793,-54.791,-54.792,-54.790,-54.793,-54.791,-54.794,-54.792,-54.793,-54.791,-54.792,-54.790]
L2LR_max = [-54.782,-54.778,-54.781,-54.784,-54.779,-54.783,-54.777,-54.781,-54.785,-54.779,-54.782,-54.778,-54.776,-54.779,-54.770,-54.755,-54.766,-54.772,-54.773,-54.775,-54.772,-54.777,-54.774,-54.778,-54.775,-54.779,-54.776,-54.780,-54.777,-54.781,-54.778,-54.782,-54.779,-54.783,-54.780,-54.781,-54.778,-54.782,-54.779,-54.783,-54.780,-54.782,-54.779,-54.784,-54.781,-54.782,-54.779,-54.783,-54.780]
L2LR_min = [-54.806,-54.803,-54.808,-54.805,-54.809,-54.804,-54.807,-54.810,-54.805,-54.808,-54.803,-54.807,-54.804,-54.806,-54.800,-54.790,-54.795,-54.799,-54.798,-54.800,-54.799,-54.802,-54.800,-54.803,-54.801,-54.804,-54.802,-54.805,-54.803,-54.806,-54.804,-54.807,-54.805,-54.808,-54.806,-54.807,-54.805,-54.809,-54.806,-54.808,-54.805,-54.810,-54.806,-54.809,-54.807,-54.812,-54.806,-54.808,-54.805]

SEG1_mean = [631.28,630.7,630.8,631.1,631.5,630.8,630.7,631.0,631.1,631.2,631.3,631.6,631.75,631.9,630.6,628.4,627.0,629.9,631.3,631.7,631.7,631.1,630.2,631.0,631.7,632.1,632.3,631.8,631.7,631.5,631.3,631.2,631.0,630.3,630.9,631.2,630.9,631.5,631.8,631.3,630.9,631.4,631.6,631.4,631.3,631.5,631.4,631.5,631.8]
SEG1_max = [631.38,630.82,630.9,631.22,631.6,630.92,630.8,631.12,631.2,631.31,631.4,631.72,631.85,632.0,630.75,628.6,627.15,630.05,631.42,631.8,631.82,631.2,630.33,631.1,631.82,632.2,632.42,631.9,631.82,631.6,631.42,631.3,631.12,630.42,631.0,631.32,631.0,631.62,631.9,631.42,631.0,631.52,631.7,631.52,631.4,631.62,631.5,631.62,631.9]
SEG1_min = [631.18,630.6,630.68,631.0,631.38,630.7,630.58,630.9,630.98,631.1,631.18,631.5,631.62,631.8,630.45,628.2,626.85,629.75,631.2,631.58,631.6,630.98,630.1,630.88,631.6,631.98,632.2,631.68,631.6,631.38,631.2,631.08,630.9,630.18,630.78,631.1,630.78,631.4,631.68,631.2,630.78,631.3,631.48,631.3,631.18,631.4,631.28,631.4,631.7]

SEG2_mean = [859.3,859.0,859.6,859.1,859.5,859.0,858.8,858.0,857.2,858.4,858.9,859.0,858.7,859.3,861.3,864.4,863.3,860.6,859.4,859.2,859.4,859.8,860.6,859.5,858.4,857.2,858.4,858.2,858.6,858.5,858.0,858.4,858.6,859.0,858.7,858.4,858.9,858.6,858.4,859.4,859.6,859.4,858.5,858.7,859.0,859.7,859.3,859.5,858.6]
SEG2_max = [859.5,859.2,859.8,859.3,859.7,859.2,859.0,858.2,857.4,858.6,859.1,859.2,858.9,859.5,861.6,864.8,863.6,860.9,859.6,859.4,859.6,860.0,860.8,859.7,858.6,857.4,858.6,858.4,858.8,858.7,858.2,858.6,858.8,859.2,858.9,858.6,859.1,858.8,858.6,859.6,859.8,859.6,858.7,858.9,859.2,859.9,859.5,859.7,858.8]
SEG2_min = [859.1,858.8,859.4,858.9,859.3,858.8,858.6,857.8,857.0,858.2,858.7,858.8,858.5,859.1,861.0,864.0,863.0,860.3,859.2,859.0,859.2,859.6,860.4,859.3,858.2,857.0,858.2,858.0,858.4,858.3,857.8,858.2,858.4,858.8,858.5,858.2,858.7,858.4,858.2,859.2,859.4,859.2,858.3,858.5,858.8,859.5,859.1,859.3,858.4]

SEG3_mean = [708.25,707.5,708.0,708.6,709.0,708.9,708.5,708.0,707.9,708.2,707.8,707.7,708.3,708.6,707.6,706.0,705.3,706.4,707.3,708.0,708.4,708.6,708.4,708.9,709.45,709.2,708.9,708.4,708.2,708.0,707.8,707.9,707.8,707.0,707.9,708.5,708.6,708.5,708.5,708.6,708.4,708.1,708.8,708.5,708.0,707.5,707.1,707.6,708.2]
SEG3_max = [708.36,707.62,708.1,708.72,709.12,709.0,708.62,708.1,708.02,708.3,707.92,707.8,708.42,708.7,707.75,706.15,705.45,706.55,707.42,708.1,708.52,708.7,708.52,709.0,709.58,709.32,709.0,708.52,708.3,708.12,707.9,708.02,707.9,707.12,708.02,708.6,708.72,708.6,708.62,708.7,708.52,708.2,708.92,708.6,708.12,707.6,707.22,707.7,708.32]
SEG3_min = [708.14,707.38,707.88,708.5,708.88,708.78,708.4,707.88,707.8,708.08,707.7,707.58,708.2,708.48,707.45,705.85,705.1,706.25,707.2,707.88,708.3,708.48,708.3,708.78,709.32,709.08,708.8,708.3,708.08,707.9,707.68,707.8,707.68,706.88,707.8,708.38,708.5,708.38,708.4,708.48,708.3,707.98,708.7,708.38,707.9,707.38,706.98,707.48,708.1]

SEG4_mean = [876.4,876.9,876.1,875.7,875.3,874.95,875.5,876.0,876.3,876.5,876.6,876.8,876.9,877.0,877.9,879.1,878.5,877.7,877.1,876.8,876.5,876.2,875.7,875.3,876.0,876.8,877.2,876.8,877.0,876.8,876.7,876.9,876.7,876.1,875.5,875.2,876.0,876.5,877.1,876.8,877.4,877.1,876.6,876.9,877.6,878.1,878.2,877.8,877.4]
SEG4_max = [876.52,877.05,876.22,875.83,875.42,875.08,875.63,876.12,876.44,876.62,876.73,876.92,877.04,877.12,878.05,879.3,878.65,877.82,877.24,876.93,876.62,876.34,875.82,875.44,876.13,876.94,877.33,876.92,877.14,876.93,876.82,877.03,876.84,876.22,875.63,875.34,876.12,876.63,877.24,876.92,877.53,877.23,876.74,877.02,877.74,878.22,878.34,877.93,877.52]
SEG4_min = [876.28,876.76,875.97,875.58,875.17,874.82,875.37,875.87,876.17,876.38,876.47,876.67,876.77,876.87,877.75,878.92,878.36,877.57,876.97,876.66,876.37,876.07,875.57,875.17,875.86,876.67,877.06,876.67,876.87,876.66,876.57,876.76,876.57,875.97,875.36,875.06,875.87,876.36,876.97,876.67,877.27,876.96,876.47,876.77,877.46,877.97,878.06,877.66,877.27]

# VOLTMON channels (sampled at the breakpoints of the trace)
LL_t = [-20.25, -18.93, -18.90, -18.87, -18.84, -18.81, -18.78, -18.75, -18.70, -18.50, -18.10, -18.05, -18.02, -17.99, -17.96, -17.93, -17.90, -17.85, -16.22]
LL_v = [0, 0, 8, 80, 250, 370, 460, 495, 503, 505, 505, 470, 380, 250, 130, 40, 10, 2, 0]
UL_t = [-20.25, -19.15, -19.12, -19.09, -19.06, -19.03, -19.00, -18.97, -18.94, -18.91, -18.88, -18.85, -18.82, -18.79, -18.72, -18.60, -16.22]
UL_v = [0, 0, -15, -90, -240, -375, -470, -505, -498, -400, -245, -100, -30, -18, -10, 0, 0]
volt_names = ['H1:SUS-ETMX_L1_VOLTMON_LL_OUT16 [s-trend]', 'H1:SUS-ETMX_L1_VOLTMON_UL_OUT16 [s-trend]']

titles = [
    'H1:SUS-ETMX_M0_OSEMINF_F1_OUTPUT [s-trend]', 'H1:SUS-ETMX_M0_OSEMINF_F2_OUTPUT [s-trend]',
    'H1:SUS-ETMX_M0_OSEMINF_F3_OUTPUT [s-trend]', 'H1:SUS-ETMX_M0_OSEMINF_LF_OUTPUT [s-trend]',
    'H1:SUS-ETMX_M0_OSEMINF_RT_OUTPUT [s-trend]', 'H1:SUS-ETMX_M0_OSEMINF_SD_OUTPUT [s-trend]',
    'H1:SUS-ETMX_R0_OSEMINF_F1_OUTPUT [s-trend]', 'H1:SUS-ETMX_R0_OSEMINF_F2_OUTPUT [s-trend]',
    'H1:SUS-ETMX_R0_OSEMINF_F3_OUTPUT [s-trend]', 'H1:SUS-ETMX_R0_OSEMINF_LF_OUTPUT [s-trend]',
    'H1:SUS-ETMX_R0_OSEMINF_RT_OUTPUT [s-trend]', 'H1:SUS-ETMX_R0_OSEMINF_SD_OUTPUT [s-trend]',
    'H1:SUS-ETMX_L1_OSEMINF_UL_OUTPUT [s-trend]', 'H1:SUS-ETMX_L1_OSEMINF_LL_OUTPUT [s-trend]',
    'H1:SUS-ETMX_L1_OSEMINF_UR_OUTPUT [s-trend]', 'H1:SUS-ETMX_L1_OSEMINF_LR_OUTPUT [s-trend]',
    'H1:SUS-ETMX_L2_OSEMINF_UL_OUTPUT [s-trend]', 'H1:SUS-ETMX_L2_OSEMINF_LL_OUTPUT [s-trend]',
    'H1:SUS-ETMX_L2_OSEMINF_UR_OUTPUT [s-trend]', 'H1:SUS-ETMX_L2_OSEMINF_LR_OUTPUT [s-trend]',
    'H1:SUS-ETMX_L3_OPLEV_SEG1_OUTPUT [s-trend]', 'H1:SUS-ETMX_L3_OPLEV_SEG2_OUTPUT [s-trend]',
    'H1:SUS-ETMX_L3_OPLEV_SEG3_OUTPUT [s-trend]', 'H1:SUS-ETMX_L3_OPLEV_SEG4_OUTPUT [s-trend]',
]

series = [
    (F1_mean, F1_max, F1_min), (F2_mean, F2_max, F2_min), (F3_mean, F3_max, F3_min),
    (LF_mean, LF_max, LF_min), (RT_mean, RT_max, RT_min), (SD_mean, SD_max, SD_min),
    (R0F1_mean, R0F1_max, R0F1_min), (R0F2_mean, R0F2_max, R0F2_min), (R0F3_mean, R0F3_max, R0F3_min),
    (R0LF_mean, R0LF_max, R0LF_min), (R0RT_mean, R0RT_max, R0RT_min), (R0SD_mean, R0SD_max, R0SD_min),
    (L1UL_mean, L1UL_max, L1UL_min), (L1LL_mean, L1LL_max, L1LL_min), (L1UR_mean, L1UR_max, L1UR_min),
    (L1LR_mean, L1LR_max, L1LR_min), (L2UL_mean, L2UL_max, L2UL_min), (L2LL_mean, L2LL_max, L2LL_min),
    (L2UR_mean, L2UR_max, L2UR_min), (L2LR_mean, L2LR_max, L2LR_min), (SEG1_mean, SEG1_max, SEG1_min),
    (SEG2_mean, SEG2_max, SEG2_min), (SEG3_mean, SEG3_max, SEG3_min), (SEG4_mean, SEG4_max, SEG4_min),
]

# y tick positions (grid) and labels ('' = grid line without label)
y_ticks = [
    [0.35, 0.40, 0.45, 0.50, 0.55], [-60.40, -60.35, -60.30], [-14.20, -14.15],
    [-95.55, -95.50, -95.45, -95.40, -95.35, -95.30], [-158.85, -158.80],
    [-25.76, -25.74, -25.72, -25.70, -25.68, -25.66], [96.40, 96.45, 96.50, 96.55, 96.60],
    [24.45, 24.50, 24.55, 24.60], [2.95, 3.00, 3.05], [-190.24, -190.22, -190.20, -190.18, -190.16],
    [-144.08, -144.06, -144.04, -144.02, -144.00, -143.98], [-12.85, -12.80, -12.75],
    [-31.4, -31.2, -31.0, -30.8], [138.26, 138.28, 138.30, 138.32],
    [-153.4, -153.3, -153.2, -153.1, -153.0], [-37.65, -37.60, -37.55, -37.50],
    [-31.0, -30.9, -30.8, -30.7, -30.6], [57.55, 57.60, 57.65, 57.70, 57.75],
    [-131.45, -131.40, -131.35, -131.30, -131.25, -131.20, -131.15],
    [-54.81, -54.80, -54.79, -54.78, -54.77, -54.76, -54.75],
    [627, 628, 629, 630, 631, 632], [858, 860, 862, 864], [705, 706, 707, 708, 709, 710],
    [875, 876, 877, 878, 879, 880],
]
y_labels = [
    ['0.35', '0.4', '0.45', '0.5', '0.55'], ['-60.40', '-60.35', ''], ['-14.20', '-14.15'],
    ['-95.55', '-95.5', '-95.45', '-95.4', '-95.35', ''], ['-158.85', '-158.80'],
    ['', '-25.74', '-25.72', '-25.70', '-25.68', '-25.66'], ['', '96.45', '96.50', '96.55', ''],
    ['24.45', '24.50', '24.55', '24.60'], ['2.95', '3.00', '3.05'],
    ['-190.24', '-190.22', '-190.20', '-190.18', ''],
    ['-144.08', '-144.06', '-144.04', '-144.02', '-144.00', '-143.98'], ['', '-12.80', '-12.75'],
    ['-31.4', '-31.2', '-31.0', '-30.8'], ['138.26', '138.28', '138.30', '138.32'],
    ['-153.4', '-153.3', '-153.2', '-153.1', '-153.0'], ['', '-37.60', '-37.55', '-37.50'],
    ['-31.0', '-30.9', '-30.8', '-30.7', '-30.6'], ['57.55', '57.6', '57.65', '57.7', '57.75'],
    ['-131.45', '-131.4', '-131.35', '-131.3', '-131.25', '-131.2', '-131.15'],
    ['-54.81', '-54.80', '-54.79', '-54.78', '-54.77', '-54.76', ''],
    ['627', '628', '629', '630', '631', '632'], ['858', '860', '862', '864'],
    ['705', '706', '707', '708', '709', ''], ['875', '876', '877', '878', '879', ''],
]
volt_ticks = [-500, 0, 500]
volt_labels = ['-500', '0', '500']

# ---------------- styling / layout ----------------
y_limits = [
    (0.3276, 0.5978), (-60.4475, -60.296), (-14.2476, -14.1266), (-95.6028, -95.289), (-158.8774, -158.7607),
    (-25.7628, -25.6496), (96.395, 96.6055), (24.4401, 24.6438), (2.9384, 3.0865), (-190.2443, -190.1564),
    (-144.0866, -143.9742), (-12.854, -12.7349), (-31.451, -30.6248), (138.2505, 138.3333), (-153.459, -152.968),
    (-37.6549, -37.4719), (-31.0776, -30.537), (57.5184, 57.7898), (-131.4742, -131.136), (-54.8194, -54.7474),
    (626.44, 632.73), (856.39, 865.40), (704.465, 710.10), (874.42, 880.11),
]
colors = ['#2b8de0', '#ff8512', '#35c435', '#f02828', '#a27ae6',
          '#c97b6b', '#ff8ce0', '#c8c8c8', '#f0f020', '#20d8f0',
          '#2a2aff', '#b41ee0', '#ff40ff', '#20f090', '#b8f4e4',
          '#8c8c14', '#5c5cf5', '#e8206e', '#ffc488', '#ff3aa0',
          '#f0883a', '#9a8cff', '#9ad40c', '#44cc80']
XLIM = (-20.245, -16.22)
TXT = '#dcdcdc'
MAJ = '#3a3a3a'
MIN = '#1c1c1c'

fig = plt.figure(figsize=(W / 100, H / 100), dpi=100, facecolor='black')


def fx(x):
    return x / W


def fy(y):
    return 1 - y / H


def rect_px(x, y, w, h, **kw):
    r = Rectangle((fx(x), fy(y + h)), w / W, h / H, transform=fig.transFigure, **kw)
    fig.add_artist(r)
    return r


def axes_px(x, y, w, h):
    return fig.add_axes([fx(x), fy(y + h), w / W, h / H])


def style_axes(ax, ylim, yt, yl):
    ax.set_facecolor('black')
    ax.set_xlim(*XLIM)
    ax.set_ylim(*ylim)
    ax.set_xticks(x_ticks)
    ax.set_xticklabels(x_tick_labels)
    ax.set_yticks(yt)
    ax.set_yticklabels(yl)
    step = yt[1] - yt[0]
    step_px = step / (ylim[1] - ylim[0]) * 200
    ax.xaxis.set_minor_locator(MultipleLocator(1 / 6))
    ax.yaxis.set_minor_locator(MultipleLocator(step / 5 if step_px >= 70 else step / 2))
    ax.grid(which='minor', color=MIN, lw=0.8)
    ax.grid(which='major', color=MAJ, lw=0.8)
    ax.set_axisbelow(True)
    for s in ('top', 'right'):
        ax.spines[s].set_visible(False)
    for s in ('left', 'bottom'):
        ax.spines[s].set_color('#a8a8a8')
        ax.spines[s].set_linewidth(1.1)
    ax.tick_params(which='both', length=0, colors=TXT, labelsize=9, pad=2.5)


# top bar
rect_px(0, 0, W, 12.5, facecolor='#373c49', edgecolor='none', zorder=5)
rect_px(0, 12.5, W, 1.5, facecolor='#e8e8e8', edgecolor='none', zorder=5)

# panels
for k in range(24):
    r, c = divmod(k, 5)
    left = 92 + 505.3 * c
    top = 62 + 256 * r
    ax = axes_px(left, top, 423, 200)
    mean, mx, mn = series[k]
    col = colors[k]
    ax.plot(t_min, mx, color=col, alpha=0.55, lw=0.75, ls=(0, (3, 2)))
    ax.plot(t_min, mn, color=col, alpha=0.55, lw=0.75, ls=(0, (3, 2)))
    ax.plot(t_min, mean, color=col, lw=0.95)
    style_axes(ax, y_limits[k], y_ticks[k], y_labels[k])
    fig.text(fx(left + 211.5), fy(top - 13), titles[k], color=TXT, fontsize=9, ha='center', va='center')
    fig.text(fx(left - 67), fy(top + 100), 'counts', color=TXT, fontsize=9, rotation=90,
             ha='center', va='center')

# VOLTMON panel
left, top = 92 + 505.3 * 4, 1056
ax = axes_px(left, top, 423, 230)
ax.plot(LL_t, LL_v, color='#1f77b4', lw=1.1, zorder=3)
ax.plot(UL_t, UL_v, color='#ff7f0e', lw=1.1, zorder=3)
style_axes(ax, (-595, 712), volt_ticks, volt_labels)
ax.add_patch(Rectangle((fx(2122), fy(1125)), 340 / W, 62 / H, transform=fig.transFigure,
                       facecolor='#141414', edgecolor='#4a4a4a', lw=0.8, zorder=2, clip_on=False))
fig.text(fx(left - 67), fy(top + 115), 'counts', color=TXT, fontsize=9, rotation=90, ha='center', va='center')
for i, (nm, cc) in enumerate(zip(volt_names, ['#1f77b4', '#ff7f0e'])):
    rect_px(2131, 1072 + 25 * i, 19, 19, facecolor=cc, edgecolor='none', zorder=7)
    fig.text(fx(2157), fy(1082 + 25 * i), nm, color=TXT, fontsize=9, ha='left', va='center', zorder=7)

# t0 label
fig.text(fx(1277), fy(1338), 't0 = Mon Aug 24 2026 18:18:18 UTC [1471630716.8750]', color='#f0f0f0',
         fontsize=10.5, ha='center', va='center')

# bottom bar
rect_px(0, 1361, W, 59, facecolor='#efefef', edgecolor='none', zorder=5)
buttons = [(0, 96, 'start online', '#1a1a1a'), (100, 87, 'stop online', '#b4b4b4'),
           (201, 99, 'reset', '#1a1a1a'), (303, 99, 'add channels', '#1a1a1a'),
           (2443, 79, 'snapshot', '#1a1a1a')]
for bx, bw, lab, tc in buttons:
    rect_px(bx, 1363, bw, 24, facecolor='#e2e2e2', edgecolor='#a6a6a6', lw=0.8, zorder=6)
    if lab == 'start online':
        fig.text(fx(bx + 8), fy(1375), '\u25b7', color='#8a8a8a', fontsize=8, family='DejaVu Sans',
                 ha='center', va='center', zorder=7)
        fig.text(fx(bx + 52), fy(1375), lab, color=tc, fontsize=8.5, ha='center', va='center', zorder=7)
    elif lab == 'stop online':
        rect_px(bx + 6, 1371, 7, 7, facecolor='#f4f4f4', edgecolor='#b8b8b8', lw=0.6, zorder=7)
        fig.text(fx(bx + 50), fy(1375), lab, color=tc, fontsize=8.5, ha='center', va='center', zorder=7)
    else:
        fig.text(fx(bx + bw / 2), fy(1375), lab, color=tc, fontsize=8.5, ha='center', va='center', zorder=7)
fig.add_artist(Polygon([(fx(2533), fy(1380)), (fx(2545), fy(1380)), (fx(2539), fy(1371))],
                       closed=True, transform=fig.transFigure, facecolor='#303030', edgecolor='none', zorder=7))
fig.text(fx(10), fy(1406), 'nds://h1daqnds1:8088  [454844 channels]', color='#1a1a1a', fontsize=8.5,
         ha='left', va='center', zorder=7)

# ndscope link line
renderer = fig.canvas.get_renderer()
xc = 2398
pieces = [('ndscope', '#0000ee', True, 3.5), ('0.22.0', '#0000ee', True, 3.5), ('(', '#1a1a1a', False, 0),
          ('report bug', '#0000ee', True, 0), (')', '#1a1a1a', False, 0)]
for s, cc, ul, gap in pieces:
    tt = fig.text(fx(xc), fy(1406), s, color=cc, fontsize=8, ha='left', va='center', zorder=7)
    bb = tt.get_window_extent(renderer=renderer)
    wpx = bb.width
    if ul:
        fig.add_artist(Line2D([fx(xc), fx(xc + wpx)], [fy(1413), fy(1413)], transform=fig.transFigure,
                              color=cc, lw=0.7, zorder=7))
    xc += wpx + gap

fig.savefig('out.png', dpi=100, facecolor='black')
